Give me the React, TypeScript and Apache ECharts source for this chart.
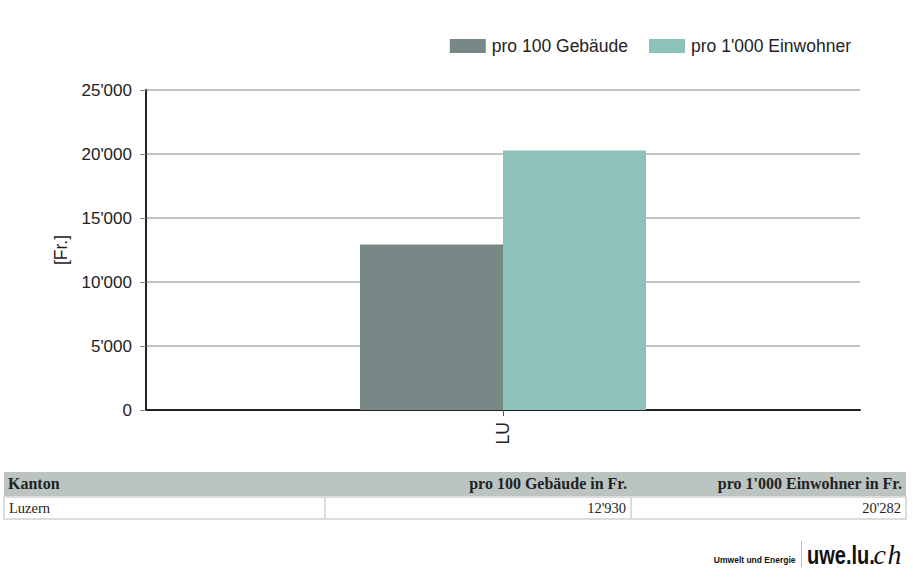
import React, { useEffect, useRef } from "react";
import * as echarts from "echarts";

const categories = ["LU"];
const seriesNames = ["pro 100 Gebäude", "pro 1'000 Einwohner"];
const perBuildings = [12930];
const perInhabitants = [20282];
const colors = ["#788886", "#8cc2ba"];
const tableHeaders = ["Kanton", "pro 100 Gebäude in Fr.", "pro 1'000 Einwohner in Fr."];
const tableRows = [["Luzern", 12930, 20282]];

const fmt = (v: number) => String(v).replace(/\B(?=(\d{3})+(?!\d))/g, "'");

export default function App() {
  const ref = useRef<HTMLDivElement>(null);
  useEffect(() => {
    if (!ref.current) return;
    const chart = echarts.init(ref.current, undefined, { renderer: "svg" });
    chart.setOption({
      animation: false,
      textStyle: { fontFamily: "Liberation Sans, Arial, sans-serif" },
      legend: {
        top: 37,
        right: 62,
        padding: 0,
        itemWidth: 36,
        itemHeight: 14,
        itemGap: 21,
        icon: "rect",
        textStyle: { fontSize: 17.5, color: "#222", padding: [0, 0, 0, 1] },
        data: seriesNames,
      },
      grid: { left: 146, right: 53, top: 90, bottom: 55 },
      xAxis: {
        type: "category",
        data: categories,
        axisLine: { lineStyle: { color: "#222", width: 2 } },
        axisTick: { show: true, alignWithLabel: true, length: 6, lineStyle: { color: "#555" } },
        axisLabel: { rotate: 90, fontSize: 17.5, color: "#222", margin: 12 },
      },
      yAxis: {
        type: "value",
        min: 0,
        max: 25000,
        interval: 5000,
        name: "[Fr.]",
        nameLocation: "middle",
        nameRotate: 90,
        nameGap: 76,
        nameTextStyle: { fontSize: 17.5, color: "#222" },
        axisLine: { show: true, lineStyle: { color: "#222", width: 2 } },
        axisTick: { show: true, length: 6, lineStyle: { color: "#888" } },
        axisLabel: { fontSize: 17, color: "#222", margin: 14, formatter: (v: number) => fmt(v) },
        splitLine: { lineStyle: { color: "#c4c4c4", width: 2 } },
      },
      series: [
        {
          name: seriesNames[0],
          type: "bar",
          data: perBuildings,
          barWidth: 143,
          barGap: "0%",
          itemStyle: { color: colors[0] },
        },
        {
          name: seriesNames[1],
          type: "bar",
          data: perInhabitants,
          barWidth: 143,
          barGap: "0%",
          itemStyle: { color: colors[1] },
        },
      ],
    });
    return () => chart.dispose();
  }, []);

  const serif = "Liberation Serif, Times New Roman, serif";
  const sans = "Liberation Sans, Arial, sans-serif";
  const colW = [321, 306, 275];
  return (
    <div style={{ position: "fixed", left: 0, top: 0, width: 913, height: 578, background: "#fff", overflow: "hidden" }}>
      <div ref={ref} style={{ position: "absolute", left: 0, top: 0, width: 913, height: 465 }} />
      <table
        style={{
          position: "absolute",
          left: 3,
          top: 472,
          width: 902,
          borderCollapse: "collapse",
          fontFamily: serif,
          color: "#222",
          tableLayout: "fixed",
        }}
      >
        <colgroup>
          {colW.map((w, i) => (
            <col key={i} style={{ width: w }} />
          ))}
        </colgroup>
        <tbody>
          <tr style={{ background: "#bcc4c1", height: 25 }}>
            {tableHeaders.map((h, i) => (
              <td
                key={i}
                style={{ fontWeight: "bold", fontSize: 16, textAlign: i === 0 ? "left" : "right", padding: "0 4px", border: "none", whiteSpace: "nowrap" }}
              >
                {h}
              </td>
            ))}
          </tr>
          {tableRows.map((r, ri) => (
            <tr key={ri} style={{ height: 22 }}>
              {r.map((c, i) => (
                <td
                  key={i}
                  style={{
                    textAlign: i === 0 ? "left" : "right",
                    padding: "0 4px",
                    border: "2px solid #dcdcdc",
                    fontSize: 14.5,
                  }}
                >
                  {typeof c === "number" ? fmt(c) : c}
                </td>
              ))}
            </tr>
          ))}
        </tbody>
      </table>
      <div style={{ position: "absolute", left: 600, top: 536, width: 303, height: 34, display: "flex", alignItems: "flex-end", justifyContent: "flex-end" }}>
        <span style={{ fontFamily: sans, fontWeight: "bold", fontSize: 8.5, color: "#111", marginRight: 5, marginBottom: 5, whiteSpace: "nowrap" }}>
          Umwelt und Energie
        </span>
        <span style={{ display: "inline-block", width: 1, height: 26, background: "#bbb", marginRight: 5, marginBottom: 3 }} />
        <span style={{ display: "inline-block", fontFamily: sans, fontWeight: "bold", fontSize: 25, color: "#111", lineHeight: "30px", transform: "scaleX(0.8)", transformOrigin: "left bottom", width: 67, whiteSpace: "nowrap" }}>
          uwe.lu.
        </span>
        <span style={{ fontFamily: serif, fontStyle: "italic", fontSize: 28, letterSpacing: 1.5, color: "#111", lineHeight: "30px" }}>
          ch
        </span>
      </div>
    </div>
  );
}
